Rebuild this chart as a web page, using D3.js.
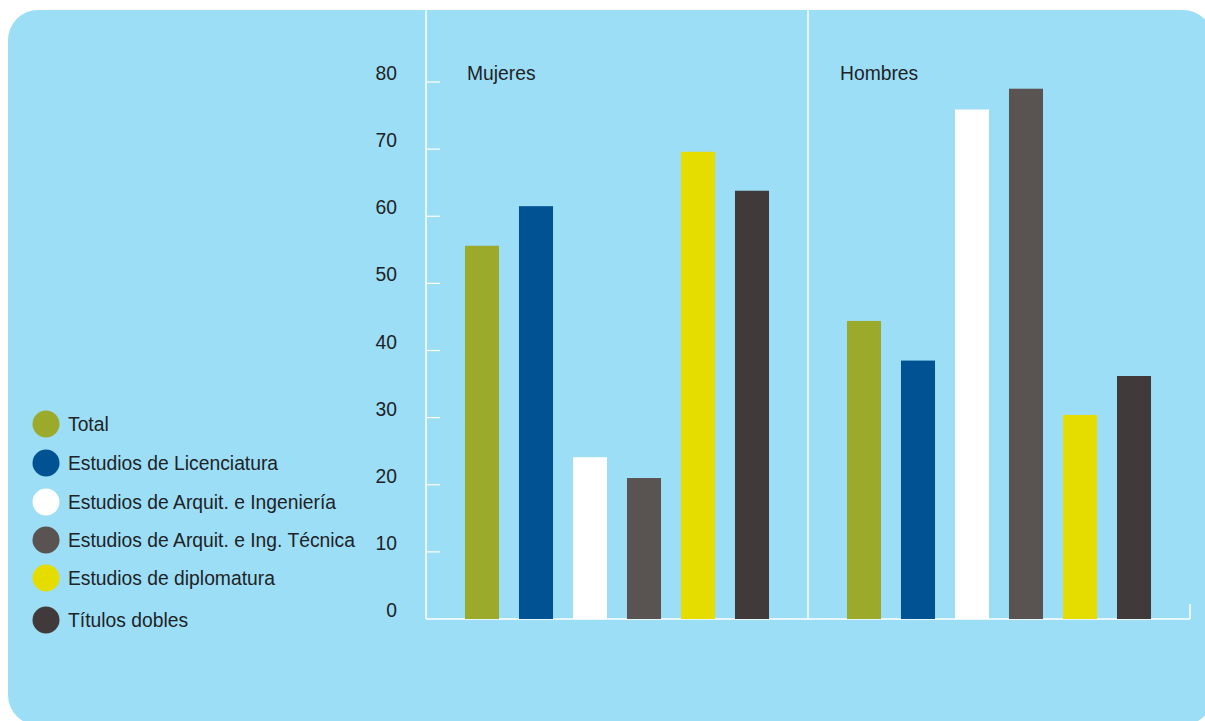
<!DOCTYPE html>
<html><head><meta charset="utf-8">
<script src="https://cdn.jsdelivr.net/npm/d3@7"></script>
<style>body{margin:0;background:#fff}svg{display:block}text{font-family:"Liberation Sans",Arial,sans-serif;fill:#1e2326}</style>
</head><body><svg id="c" width="1205" height="721"></svg>
<script>
const groups = ["Mujeres", "Hombres"];
const series = ["Total", "Estudios de Licenciatura", "Estudios de Arquit. e Ingeniería", "Estudios de Arquit. e Ing. Técnica", "Estudios de diplomatura", "Títulos dobles"];
const colors = ["#9BAA2B", "#005293", "#FFFFFF", "#595451", "#E5DC00", "#403A3A"];
const mujeres = [55.6, 61.5, 24.1, 21.0, 69.6, 63.8];
const hombres = [44.4, 38.5, 75.9, 79.0, 30.4, 36.2];
const yTicks = [0, 10, 20, 30, 40, 50, 60, 70, 80];

const values = {Mujeres: mujeres, Hombres: hombres};
const FS = 19.3;
const svg = d3.select("#c");
svg.append("rect").attr("x", 8).attr("y", 10).attr("width", 1205).attr("height", 715).attr("rx", 30).attr("fill", "#9CDEF6");

const y = d3.scaleLinear().domain([0, 80]).range([619, 82]);
const x0 = d3.scaleBand().domain(groups).range([426, 1190]).padding(0);
const x1 = d3.scaleBand().domain(series).range([0, x0.bandwidth()]).paddingInner(0.37).paddingOuter(0.722);

// axis
const yAxis = svg.append("g").attr("transform", "translate(426,0)");
yAxis.append("line").attr("y1", 10).attr("y2", 619).attr("stroke", "#fff").attr("stroke-width", 1.5);
yAxis.selectAll("line.t").data(yTicks.filter(d => d > 0)).enter().append("line").attr("class", "t")
  .attr("x1", 0).attr("x2", 14).attr("y1", d => y(d)).attr("y2", d => y(d)).attr("stroke", "#fff").attr("stroke-width", 1.2);
yAxis.selectAll("text").data(yTicks).enter().append("text")
  .attr("x", -29).attr("y", d => y(d) - 2).attr("text-anchor", "end").attr("font-size", FS).text(d => d);

// baseline & divider
svg.append("line").attr("x1", 426).attr("x2", 1190).attr("y1", 619).attr("y2", 619).attr("stroke", "#fff").attr("stroke-width", 1.5);
svg.append("line").attr("x1", 1190).attr("x2", 1190).attr("y1", 604).attr("y2", 619).attr("stroke", "#fff").attr("stroke-width", 1.5);
svg.append("line").attr("x1", x0("Hombres")).attr("x2", x0("Hombres")).attr("y1", 10).attr("y2", 619).attr("stroke", "#fff").attr("stroke-width", 1.5);

const g = svg.selectAll("g.grp").data(groups).enter().append("g").attr("class", "grp")
  .attr("transform", d => `translate(${x0(d)},0)`);
g.append("text").attr("x", (d, i) => i === 0 ? 41 : 32).attr("y", 80).attr("font-size", FS).text(d => d);
g.selectAll("rect").data(d => values[d].map((v, i) => ({s: series[i], v, c: colors[i]}))).enter().append("rect")
  .attr("x", d => x1(d.s)).attr("width", x1.bandwidth())
  .attr("y", d => y(d.v)).attr("height", d => y(0) - y(d.v)).attr("fill", d => d.c);

// legend
const legY = [424, 463, 502, 540, 578, 620];
const leg = svg.selectAll("g.leg").data(series).enter().append("g").attr("class", "leg")
  .attr("transform", (d, i) => `translate(46,${legY[i]})`);
leg.append("circle").attr("r", 13.5).attr("fill", (d, i) => colors[i]);
leg.append("text").attr("x", 22).attr("y", 7).attr("font-size", FS).text(d => d);
</script></body></html>
